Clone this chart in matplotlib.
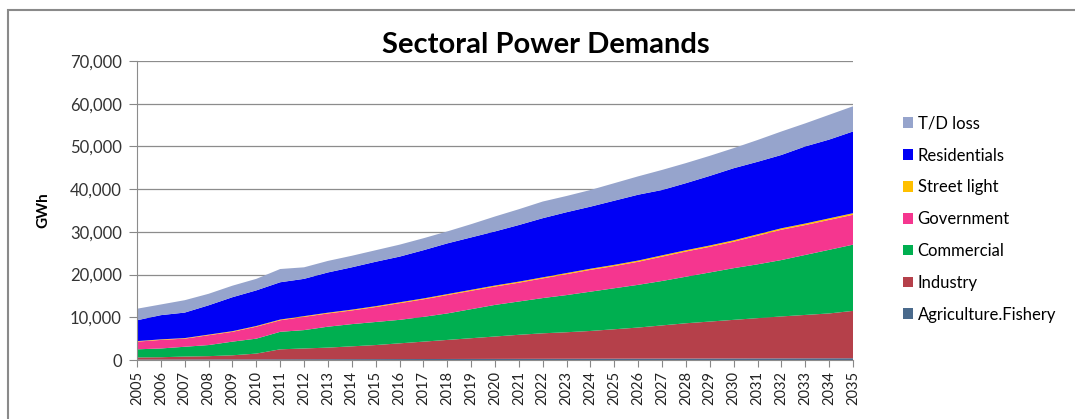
import matplotlib.pyplot as plt
import numpy as np
from matplotlib.patches import Patch, Rectangle

years = list(range(2005, 2036))

# GWh per sector, bottom to top of the stack
agriculture = [120, 120, 130, 140, 150, 150, 170, 180, 190, 200, 210, 220, 230, 240, 250, 260,
               270, 280, 290, 300, 310, 320, 330, 340, 350, 360, 370, 380, 390, 400, 410]
industry = [480, 530, 670, 760, 950, 1350, 2330, 2520, 2710, 3000, 3290, 3680, 4070, 4460, 4850, 5240,
            5630, 5970, 6210, 6500, 6890, 7280, 7770, 8260, 8650, 9040, 9430, 9820, 10160, 10500, 11090]
commercial = [1900, 2050, 2300, 2600, 3200, 3500, 4100, 4300, 4900, 5200, 5400, 5500, 5800, 6200, 6800, 7400,
              7800, 8250, 8700, 9200, 9600, 10000, 10400, 10900, 11500, 12100, 12600, 13200, 14050, 14900, 15500]
government = [1800, 2000, 1900, 2300, 2300, 2800, 2700, 3100, 3100, 3200, 3500, 3900, 4100, 4300, 4300, 4300,
              4400, 4600, 4900, 5100, 5200, 5400, 5700, 5900, 6000, 6200, 6700, 7100, 7000, 7000, 7000]
street_light = [120, 130, 130, 140, 150, 160, 170, 170, 180, 190, 200, 210, 210, 220, 230, 240,
                250, 250, 260, 270, 280, 290, 300, 300, 310, 320, 330, 340, 350, 360, 370]
residentials = [4880, 5670, 5970, 6860, 7950, 8340, 8730, 8730, 9420, 9910, 10400, 10690, 11290, 11880, 12270, 12660,
                13250, 13850, 14240, 14530, 15020, 15410, 15300, 15700, 16290, 16880, 16970, 17160, 18050, 18440, 19130]
td_loss = [2700, 2500, 2900, 2700, 2700, 2700, 3100, 2700, 2700, 2700, 2700, 2800, 2800, 2800, 3100, 3500,
           3700, 3900, 3800, 3900, 4100, 4300, 4700, 4700, 4700, 4700, 5100, 5500, 5400, 5800, 5900]

labels = ["Agriculture.Fishery", "Industry", "Commercial", "Government",
          "Street light", "Residentials", "T/D loss"]
colors = ["#4A6A8C", "#B5404A", "#00AF50", "#F5368F", "#FFC000", "#0000F5", "#96A4CC"]

plt.rcParams['font.family'] = ['Lato', 'DejaVu Sans']

fig = plt.figure(figsize=(10.75, 4.19), dpi=100)
ax = fig.add_axes([137 / 1075, 1 - 360 / 419, 716 / 1075, 299 / 419])

ax.stackplot(years, agriculture, industry, commercial, government, street_light,
             residentials, td_loss, colors=colors, linewidth=0, zorder=2)

ax.set_xlim(2005, 2035)
ax.set_ylim(0, 70000)
ax.set_yticks(np.arange(0, 70001, 10000))
ax.set_yticklabels([f"{v:,}" for v in range(0, 70001, 10000)], fontsize=12, color="#333333")
ax.set_xticks(years)
ax.set_xticklabels([str(y) for y in years], rotation=90, fontsize=10.5, color="#222222")
ax.tick_params(axis="y", length=6, color="#888888", pad=5)
ax.tick_params(axis="x", length=5, color="#888888", pad=3)

ax.grid(axis="y", color="#8C8C8C", linewidth=0.9, zorder=0)
for side in ["top", "right"]:
    ax.spines[side].set_visible(False)
ax.spines["left"].set_color("#8C8C8C")
ax.spines["bottom"].set_color("#8C8C8C")

ax.set_ylabel("GWh", fontsize=11, fontweight="bold", labelpad=14)
fig.text(546 / 1075, 1 - 45 / 419, "Sectoral Power Demands", fontsize=21,
         fontweight="bold", ha="center", va="center")

handles = [Patch(facecolor=c, edgecolor="none") for c in colors]
fig.legend(handles[::-1], labels[::-1], loc="upper left",
           bbox_to_anchor=(896 / 1075, 1 - 109 / 419), frameon=False,
           fontsize=12, handlelength=0.6, handleheight=0.6, handletextpad=0.3,
           labelspacing=0.95, borderaxespad=0)

# outer chart frame
fig.patches.append(Rectangle((8 / 1075, -0.05), 1.1, 1 - 10 / 419 + 0.05,
                             transform=fig.transFigure, fill=False,
                             edgecolor="#8A8A8A", linewidth=1.5))

fig.savefig("out.png", dpi=100)
